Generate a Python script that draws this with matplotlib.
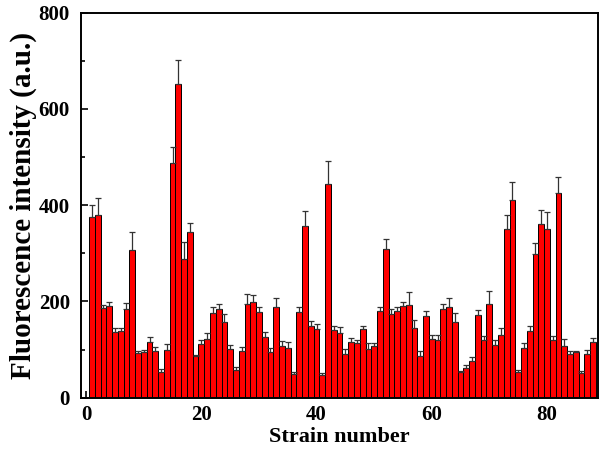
import matplotlib.pyplot as plt
from matplotlib.ticker import MultipleLocator

# strain number 1..88, fluorescence (a.u.) and upper error
strains = list(range(1, 89))
intensity = [
    376, 379, 186, 191, 136, 139, 185, 306, 93, 95,
    116, 97, 53, 100, 488, 651, 289, 344, 87, 111,
    122, 177, 185, 158, 101, 58, 97, 194, 198, 179,
    127, 94, 189, 107, 104, 49, 178, 357, 149, 142,
    47, 445, 141, 134, 90, 116, 113, 143, 101, 107,
    181, 310, 175, 181, 191, 193, 144, 87, 170, 123,
    119, 185, 188, 158, 53, 61, 77, 172, 120, 195,
    109, 130, 351, 410, 53, 103, 138, 299, 360, 350,
    120, 425, 108, 91, 95, 51, 91, 115,
]
errors = [
    25, 35, 6, 8, 9, 6, 12, 38, 4, 4,
    11, 8, 6, 11, 32, 50, 34, 18, 2, 9,
    12, 12, 9, 15, 8, 6, 8, 21, 16, 9,
    9, 10, 19, 10, 12, 4, 10, 32, 11, 12,
    4, 46, 9, 13, 12, 9, 7, 6, 12, 6,
    8, 19, 9, 8, 8, 26, 17, 10, 11, 7,
    11, 10, 20, 18, 3, 8, 8, 11, 9, 26,
    11, 14, 29, 38, 5, 11, 11, 23, 31, 36,
    9, 34, 13, 7, 2, 5, 9, 10,
]

plt.rcParams['font.family'] = ['Liberation Serif', 'DejaVu Serif']
plt.rcParams['font.weight'] = 'bold'

fig = plt.figure(figsize=(6, 4.53), dpi=100)
ax = fig.add_axes([0.135, 0.122, 0.862, 0.85])

ax.bar(strains, intensity, width=1.0, color='#ff0000', edgecolor='black',
       linewidth=0.7, zorder=2)
ax.errorbar(strains, intensity, yerr=[[0] * len(errors), errors], fmt='none',
            ecolor='#333333', elinewidth=0.9, capsize=2.5, capthick=0.9, zorder=3)

ax.set_xlim(-0.9, 88.9)
ax.set_ylim(0, 800)
ax.xaxis.set_major_locator(MultipleLocator(20))
ax.xaxis.set_minor_locator(MultipleLocator(10))
ax.yaxis.set_major_locator(MultipleLocator(200))
ax.yaxis.set_minor_locator(MultipleLocator(100))
ax.tick_params(which='both', direction='in', width=1.2, labelsize=15)
ax.tick_params(axis='y', pad=8)
ax.tick_params(axis='x', pad=5)
ax.tick_params(which='major', length=5)
ax.tick_params(which='minor', length=3)
for lbl in ax.get_xticklabels() + ax.get_yticklabels():
    lbl.set_fontweight('bold')
for sp in ax.spines.values():
    sp.set_linewidth(1.4)

ax.set_xlabel('Strain number', fontsize=16, fontweight='bold', labelpad=2)
ax.set_ylabel('Fluorescence intensity (a.u.)', fontsize=21, fontweight='bold', labelpad=1)

fig.savefig('out.png', dpi=100)
